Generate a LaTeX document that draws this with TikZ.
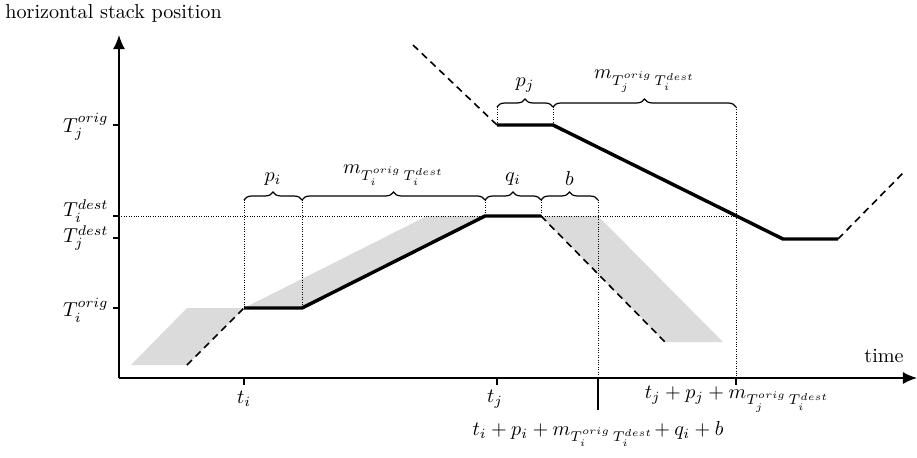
\documentclass[tikz,border=0pt]{standalone}
\usetikzlibrary{arrows.meta,decorations.pathreplacing}
\begin{document}
\begin{tikzpicture}[x=0.4963pt,y=-0.4963pt,
  axis/.style={line width=0.8pt},
  thickpath/.style={line width=1.7pt},
  dashpath/.style={line width=0.8pt, dash pattern=on 3.5pt off 2.5pt},
  guide/.style={line width=0.4pt, dash pattern=on 0.4pt off 0.8pt},
  shade/.style={fill=black!14, draw=none},
  brc/.style={decorate, decoration={brace, amplitude=4pt}, line width=0.6pt},
  tickmark/.style={line width=0.6pt},
  lbl/.style={inner sep=1pt}
]
\useasboundingbox (0,0) rectangle (917,457);

% axes
\coordinate (O) at (119,378);
\coordinate (Ytop) at (119,35);
\coordinate (Xend) at (917,378);

% path i points
\coordinate (i0) at (187,365);
\coordinate (i1) at (244,308);
\coordinate (i2) at (302,308);
\coordinate (i3) at (485,216);
\coordinate (i4) at (541,216);
\coordinate (i5) at (665,342);
% path j points
\coordinate (j0) at (413,45);
\coordinate (j1) at (497,125);
\coordinate (j2) at (553,125);
\coordinate (j3) at (783,239);
\coordinate (j4) at (838,239);
\coordinate (j5) at (903,173);

% gray regions
\fill[shade] (131,365) -- (187,308) -- (i1) -- (i0) -- cycle;
\fill[shade] (i1) -- (427,216) -- (i3) -- (i2) -- cycle;
\fill[shade] (i4) -- (598,216) -- (723,342) -- (i5) -- cycle;

% guides
\coordinate (Ydi) at (119,216);
\coordinate (Gx) at (736,216);
\draw[guide] (Ydi) -- (Gx);
\foreach \x/\yt/\yb in {244/200/308, 302/200/308, 485/200/216, 541/200/216, 598/200/378, 497/107/125, 553/107/125, 736/107/378}
  \draw[guide] (\x,\yt) -- (\x,\yb);

% braces
\draw[brc] (244,200) -- node[lbl, above=6pt] (bpi) {$p_i$} (302,200);
\draw[brc] (302,200) -- node[lbl, above=6pt] (bmi) {$m_{T_i^{orig}\,T_i^{dest}}$} (485,200);
\draw[brc] (485,200) -- node[lbl, above=6pt] (bqi) {$q_i$} (541,200);
\draw[brc] (541,200) -- node[lbl, above=6pt] (bb) {$b$} (598,200);
\draw[brc] (497,107) -- node[lbl, above=6pt] (bpj) {$p_j$} (553,107);
\draw[brc] (553,107) -- node[lbl, above=6pt] (bmj) {$m_{T_j^{orig}\,T_i^{dest}}$} (736,107);

% paths
\draw[dashpath] (i0) -- (i1);
\draw[thickpath] (i1) -- (i2) -- (i3) -- (i4);
\draw[dashpath] (i4) -- (i5);
\draw[dashpath] (j0) -- (j1);
\draw[thickpath] (j1) -- (j2) -- (j3) -- (j4);
\draw[dashpath] (j4) -- (j5);

% axes
\draw[axis, -{Latex[length=7pt,width=6pt]}] (O) -- (Ytop);
\draw[axis, -{Latex[length=7pt,width=6pt]}] (O) -- (Xend);
\node[anchor=west, inner sep=0pt] (ylab) at (5,13) {horizontal stack position};
\node[inner sep=0pt] (xlab) at (884,356) {time};

% y ticks
\foreach \y in {125,216,238,308} \draw[tickmark] (113,\y) -- (119,\y);
\node[anchor=east, lbl] (Tjo) at (111,127) {$T_j^{orig}$};
\node[anchor=east, lbl] (Tid) at (111,211) {$T_i^{dest}$};
\node[anchor=east, lbl] (Tjd) at (111,238) {$T_j^{dest}$};
\node[anchor=east, lbl] (Tio) at (111,310) {$T_i^{orig}$};

% x ticks
\draw[tickmark] (244,378) -- (244,385);
\draw[tickmark] (497,378) -- (497,385);
\draw[tickmark] (598,378) -- (598,410);
\draw[tickmark] (736,378) -- (736,385);
\node[lbl] (ti) at (244,399) {$t_i$};
\node[lbl] (tj) at (495,399) {$t_j$};
\node[lbl] (tjsum) at (737,399) {$t_j + p_j + m_{T_j^{orig}\,T_i^{dest}}$};
\node[lbl] (tisum) at (598,434) {$t_i + p_i + m_{T_i^{orig}\,T_i^{dest}}\!+ q_i + b$};
\end{tikzpicture}
\end{document}
